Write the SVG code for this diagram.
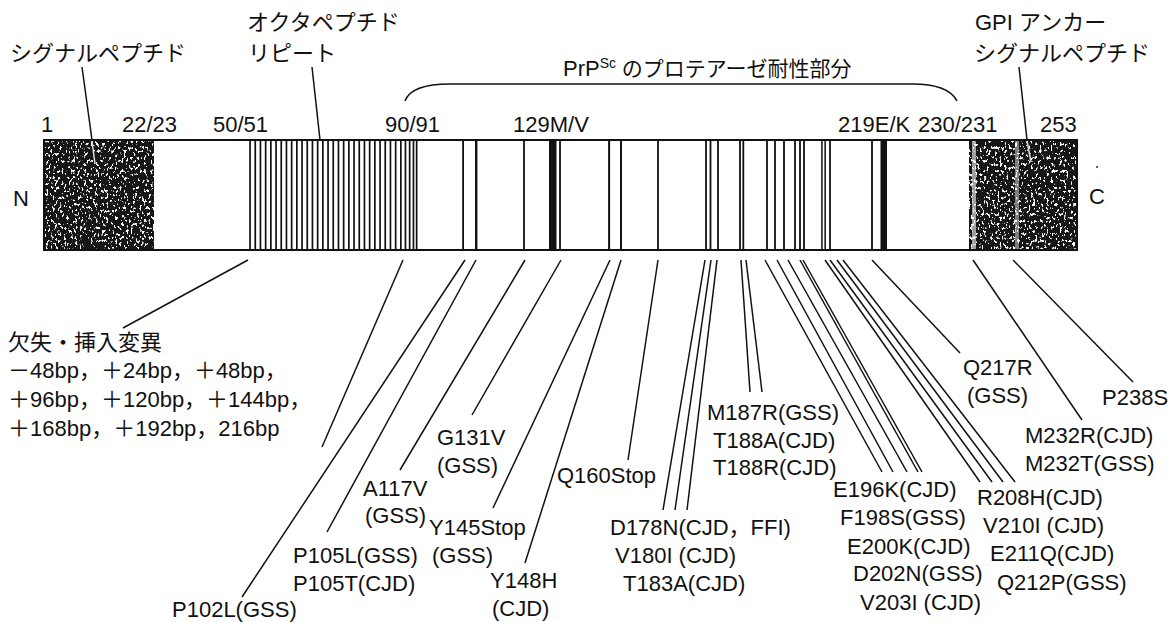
<svg xmlns="http://www.w3.org/2000/svg" width="1175" height="622" viewBox="0 0 1175 622">
<style>
text{font-family:"Liberation Sans","Noto Sans CJK JP",sans-serif;font-size:22px;fill:#111}
.ln{stroke:#111;stroke-width:1.5;fill:none}
.band{fill:#111}
.lt{stroke:#ddd;stroke-width:1.5}
</style>
<defs>
<filter id="speck" x="0" y="0" width="1" height="1">
<feTurbulence type="fractalNoise" baseFrequency="0.45 0.3" numOctaves="2" seed="5" result="n"/>
<feColorMatrix in="n" type="matrix" values="0 0 0 0 1  0 0 0 0 1  0 0 0 0 1  14 0 0 0 -8.4" result="s"/>
<feComposite in="s" in2="SourceGraphic" operator="in" result="c"/>
<feMerge><feMergeNode in="SourceGraphic"/><feMergeNode in="c"/></feMerge>
</filter>
</defs>
<rect width="1175" height="622" fill="#fff"/>

<g id="bar">
<rect x="44" y="140" width="1033" height="110" fill="#fff"/>
<rect x="44" y="140" width="110" height="110" fill="#151515" filter="url(#speck)"/>
<rect x="969" y="140" width="108" height="110" fill="#151515" filter="url(#speck)"/>
<rect x="972" y="141" width="4" height="108" fill="#fff" opacity="0.6"/>
<rect x="1015" y="141" width="4" height="108" fill="#fff" opacity="0.45"/>
<g id="repeat" class="band">
<rect x="249.2" y="140" width="1.7" height="110"/><rect x="254.4" y="140" width="1.7" height="110"/><rect x="259.6" y="140" width="1.7" height="110"/><rect x="264.8" y="140" width="1.7" height="110"/><rect x="270" y="140" width="1.7" height="110"/><rect x="275.2" y="140" width="1.7" height="110"/><rect x="280.4" y="140" width="1.7" height="110"/><rect x="285.6" y="140" width="1.7" height="110"/><rect x="290.8" y="140" width="1.7" height="110"/><rect x="296" y="140" width="1.7" height="110"/><rect x="301.2" y="140" width="1.7" height="110"/><rect x="306.4" y="140" width="1.7" height="110"/><rect x="311.6" y="140" width="1.7" height="110"/><rect x="316.8" y="140" width="1.7" height="110"/><rect x="322" y="140" width="1.7" height="110"/><rect x="327.2" y="140" width="1.7" height="110"/><rect x="332.4" y="140" width="1.7" height="110"/><rect x="337.6" y="140" width="1.7" height="110"/><rect x="342.8" y="140" width="1.7" height="110"/><rect x="348" y="140" width="1.7" height="110"/><rect x="353.2" y="140" width="1.7" height="110"/><rect x="358.4" y="140" width="1.7" height="110"/><rect x="363.6" y="140" width="1.7" height="110"/><rect x="368.8" y="140" width="1.7" height="110"/><rect x="374" y="140" width="1.7" height="110"/><rect x="379.2" y="140" width="1.7" height="110"/><rect x="384.4" y="140" width="1.7" height="110"/><rect x="389.6" y="140" width="1.7" height="110"/><rect x="394.8" y="140" width="1.7" height="110"/><rect x="400" y="140" width="1.7" height="110"/><rect x="404.6" y="140" width="1.7" height="110"/><rect x="408.8" y="140" width="1.7" height="110"/><rect x="412.6" y="140" width="1.7" height="110"/><rect x="415.8" y="140" width="1.7" height="110"/>
</g>
<g id="mutbands" class="band">
<rect x="462.2" y="140" width="1.8" height="110"/><rect x="475" y="140" width="2.4" height="110"/><rect x="523.1" y="140" width="1.8" height="110"/><rect x="549" y="140" width="7.5" height="110"/><rect x="559.1" y="140" width="1.8" height="110"/><rect x="608.1" y="140" width="2" height="110"/><rect x="620" y="140" width="2" height="110"/><rect x="657.1" y="140" width="1.8" height="110"/><rect x="705.1" y="140" width="1.8" height="110"/><rect x="709.6" y="140" width="1.8" height="110"/><rect x="717.1" y="140" width="1.8" height="110"/><rect x="739.1" y="140" width="1.8" height="110"/><rect x="742.4" y="140" width="1.8" height="110"/><rect x="766.1" y="140" width="1.8" height="110"/><rect x="774.1" y="140" width="1.8" height="110"/><rect x="783.1" y="140" width="1.8" height="110"/><rect x="794.1" y="140" width="1.8" height="110"/><rect x="799.1" y="140" width="1.8" height="110"/><rect x="803.1" y="140" width="1.8" height="110"/><rect x="821.2" y="140" width="1.5" height="110"/><rect x="824.4" y="140" width="1.5" height="110"/><rect x="829.1" y="140" width="1.8" height="110"/><rect x="871.1" y="140" width="1.8" height="110"/><rect x="880.5" y="140" width="6.5" height="110"/>
</g>
<rect x="44" y="140" width="1033" height="110" fill="none" stroke="#111" stroke-width="2"/>
</g>

<g id="ends">
<text x="13" y="206" font-size="24">N</text>
<text x="1089" y="204" font-size="24">C</text>
<circle cx="1097" cy="167" r="1" fill="#333"/>
</g>

<g id="positions">
<text x="41" y="132">1</text>
<text x="122" y="132">22/23</text>
<text x="213" y="132">50/51</text>
<text x="385" y="132">90/91</text>
<text x="513" y="132">129M/V</text>
<text x="838" y="132">219E/K</text>
<text x="918" y="132">230/231</text>
<text x="1040" y="132">253</text>
</g>

<g id="domain-signal"><text x="10" y="61">シグナルペプチド</text></g>
<g id="domain-octa"><text x="247" y="30">オクタペプチド</text><text x="248" y="61">リピート</text></g>
<g id="domain-gpi"><text x="975" y="30">GPI アンカー</text><text x="974" y="61">シグナルペプチド</text></g>
<g id="domain-prpsc">
<path class="ln" d="M405,101 C409,90 422,84 450,84 L912,84 C936,84 951,89 957,101"/>
<text x="563" y="76">PrP<tspan font-size="14" dy="-8">Sc</tspan><tspan dy="8" font-size="21"> のプロテアーゼ耐性部分</tspan></text>
</g>

<g id="connectors">
<line class="ln" x1="82" y1="67" x2="92" y2="140"/>
<line class="lt" x1="92" y1="141" x2="95" y2="164"/>
<line class="ln" x1="312" y1="67" x2="320" y2="140"/>
<line class="ln" x1="1019" y1="67" x2="1027" y2="140"/>
<line class="lt" x1="1027" y1="141" x2="1031" y2="162"/>
<line class="ln" x1="248" y1="260" x2="123" y2="328"/>
<line class="ln" x1="403" y1="260" x2="322" y2="447"/>
<line class="ln" x1="465" y1="260" x2="242" y2="597"/>
<line class="ln" x1="476" y1="260" x2="327" y2="532"/>
<line class="ln" x1="525" y1="260" x2="400" y2="470"/>
<line class="ln" x1="561" y1="260" x2="472" y2="415"/>
<line class="ln" x1="610" y1="260" x2="493" y2="508"/>
<line class="ln" x1="621" y1="260" x2="525" y2="563"/>
<line class="ln" x1="658" y1="260" x2="628" y2="460"/>
<line class="ln" x1="705" y1="260" x2="663" y2="510"/>
<line class="ln" x1="711" y1="260" x2="675" y2="510"/>
<line class="ln" x1="717" y1="260" x2="687" y2="510"/>
<line class="ln" x1="741" y1="260" x2="750" y2="392"/>
<line class="ln" x1="746" y1="260" x2="762" y2="392"/>
<line class="ln" x1="765" y1="260" x2="882" y2="472"/>
<line class="ln" x1="777" y1="260" x2="893" y2="472"/>
<line class="ln" x1="788" y1="260" x2="907" y2="472"/>
<line class="ln" x1="800" y1="260" x2="918" y2="472"/>
<line class="ln" x1="803" y1="260" x2="922" y2="472"/>
<line class="ln" x1="825" y1="260" x2="980" y2="482"/>
<line class="ln" x1="830" y1="260" x2="992" y2="482"/>
<line class="ln" x1="837" y1="260" x2="1003" y2="482"/>
<line class="ln" x1="843" y1="260" x2="1015" y2="482"/>
<line class="ln" x1="872" y1="260" x2="960" y2="353"/>
<line class="ln" x1="973" y1="260" x2="1082" y2="420"/>
<line class="ln" x1="1013" y1="260" x2="1133" y2="382"/>
</g>

<g id="indel">
<text x="8" y="350">欠失・挿入変異</text>
<text x="8" y="378">－48bp，＋24bp，＋48bp，</text>
<text x="8" y="407">＋96bp，＋120bp，＋144bp，</text>
<text x="8" y="436">＋168bp，＋192bp，216bp</text>
</g>
<g id="m-p102"><text x="172" y="617">P102L(GSS)</text></g>
<g id="m-p105"><text x="293" y="563">P105L(GSS)</text><text x="293" y="591">P105T(CJD)</text></g>
<g id="m-a117"><text x="363" y="496">A117V</text><text x="365" y="523">(GSS)</text></g>
<g id="m-g131"><text x="437" y="445">G131V</text><text x="437" y="473">(GSS)</text></g>
<g id="m-y145"><text x="429" y="535">Y145Stop</text><text x="432" y="563">(GSS)</text></g>
<g id="m-y148"><text x="490" y="588">Y148H</text><text x="492" y="616">(CJD)</text></g>
<g id="m-q160"><text x="557" y="483">Q160Stop</text></g>
<g id="m-178"><text x="610" y="535">D178N(CJD，FFI)</text><text x="615" y="563">V180I (CJD)</text><text x="623" y="591">T183A(CJD)</text></g>
<g id="m-187"><text x="707" y="420">M187R(GSS)</text><text x="713" y="448">T188A(CJD)</text><text x="713" y="475">T188R(CJD)</text></g>
<g id="m-196"><text x="833" y="497">E196K(CJD)</text><text x="840" y="525">F198S(GSS)</text><text x="847" y="554">E200K(CJD)</text><text x="853" y="581">D202N(GSS)</text><text x="860" y="610">V203I (CJD)</text></g>
<g id="m-208"><text x="977" y="505">R208H(CJD)</text><text x="983" y="533">V210I (CJD)</text><text x="990" y="561">E211Q(CJD)</text><text x="997" y="590">Q212P(GSS)</text></g>
<g id="m-217"><text x="963" y="375">Q217R</text><text x="967" y="403">(GSS)</text></g>
<g id="m-232"><text x="1025" y="443">M232R(CJD)</text><text x="1025" y="471">M232T(GSS)</text></g>
<g id="m-238"><text x="1102" y="405">P238S</text></g>
</svg>
